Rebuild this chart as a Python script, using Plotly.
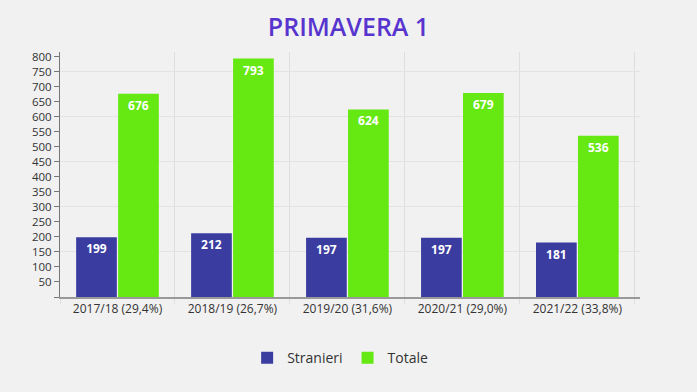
import plotly.graph_objects as go

categories = ["2017/18 (29,4%)", "2018/19 (26,7%)", "2019/20 (31,6%)", "2020/21 (29,0%)", "2021/22 (33,8%)"]
stranieri = [199, 212, 197, 197, 181]
totale = [676, 793, 624, 679, 536]
y_ticks = list(range(0, 801, 50))
y_ticktext = ["" if v == 0 else str(v) for v in y_ticks]
grid_ticks = list(range(150, 801, 150))

BG = "#f1f1f1"
BLUE = "#3b3ca0"
GREEN = "#66e812"

fig = go.Figure()
fig.add_trace(go.Bar(
    name="Stranieri", x=categories, y=stranieri, marker=dict(color=BLUE, line=dict(width=0)),
    text=[str(v) for v in stranieri], textposition="inside", insidetextanchor="end",
    textfont=dict(color="white", size=12, family="Open Sans", weight="bold"), textangle=0,
))
fig.add_trace(go.Bar(
    name="Totale", x=categories, y=totale, marker=dict(color=GREEN, line=dict(width=0)),
    text=[str(v) for v in totale], textposition="inside", insidetextanchor="end",
    textfont=dict(color="white", size=12, family="Open Sans", weight="bold"), textangle=0,
))
fig.add_trace(go.Scatter(x=[categories[0]], y=[None], yaxis="y2", showlegend=False, hoverinfo="skip", mode="markers"))

fig.update_layout(
    width=697, height=392,
    paper_bgcolor=BG, plot_bgcolor=BG,
    margin=dict(l=60, r=57, t=52, b=95),
    title=dict(text="PRIMAVERA 1", x=0.5, xanchor="center", y=0.93, yanchor="middle",
               font=dict(family="Open Sans", size=25, color="#5834cf", weight=600)),
    barmode="group", bargap=0.27, bargroupgap=0.03,
    font=dict(family="Open Sans", size=12, color="#333333"),
    xaxis=dict(range=[-0.5, 4.545], showgrid=True, gridcolor="#dedede", gridwidth=1,
               tickson="boundaries", ticks="outside", ticklen=5, tickcolor="#dedede",
               showline=True, linecolor="#999999", linewidth=2,
               tickfont=dict(size=12, color="#333333")),
    yaxis=dict(range=[0, 815], tickvals=grid_ticks, showticklabels=False, ticks="",
               showgrid=True, gridcolor="#e3e3e3", gridwidth=1, zeroline=False, showline=False),
    yaxis2=dict(overlaying="y", side="left", range=[0, 815], tickvals=y_ticks, ticktext=y_ticktext,
                ticks="outside", ticklen=5, tickcolor="#777777", showgrid=False, zeroline=False,
                showline=True, linecolor="#777777", linewidth=1,
                tickfont=dict(size=11.5, color="#333333")),
    legend=dict(orientation="h", x=0.483, xanchor="center", y=-0.25, yanchor="middle",
                itemwidth=30, font=dict(size=14, color="#333333"), bgcolor="rgba(0,0,0,0)"),
    showlegend=True,
)

fig.write_html("out.html", config={"displayModeBar": False},
               post_script="document.body.style.margin='0';")
